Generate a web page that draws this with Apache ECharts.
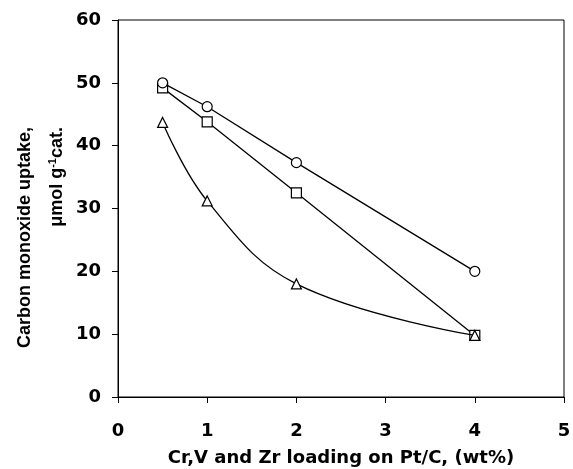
<!DOCTYPE html>
<html><head><meta charset="utf-8">
<script src="https://cdn.jsdelivr.net/npm/echarts@6/dist/echarts.min.js"></script>
<style>html,body{margin:0;padding:0;background:#fff}#c{width:573px;height:469px}</style>
</head><body><div id="c"></div>
<script>
var loading = [0.5, 1, 2, 4];
var seriesCircle = [50.0, 46.2, 37.3, 20.0];
var seriesSquare = [49.2, 43.8, 32.5, 9.8];
var seriesTriangle = [43.7, 31.2, 18.0, 9.8];
var xTicks = [0, 1, 2, 3, 4, 5];
var yTicks = [0, 10, 20, 30, 40, 50, 60];
var xTitle = 'Cr,V and Zr loading on Pt/C, (wt%)';
var yTitle1 = 'Carbon monoxide uptake,';

function pairs(xs, ys){ return xs.map(function(x,i){ return [x, ys[i]]; }); }
var hfont = 'DejaVu Sans, sans-serif';
var vfont = 'Liberation Sans, Arial, sans-serif';
var chart = echarts.init(document.getElementById('c'));
var markerStyle = {color:'#fff', borderColor:'#000', borderWidth:1.2};
chart.setOption({
  animation:false,
  grid:{left:118, top:20, right:9, bottom:72, show:true, borderColor:'#000', borderWidth:1,
    backgroundColor:'transparent', containLabel:false, outerBoundsMode:'none'},
  xAxis:{type:'value', min:0, max:5, interval:1,
    name:xTitle, nameLocation:'middle', nameGap:52,
    nameTextStyle:{fontFamily:hfont, fontWeight:'bold', fontSize:18, color:'#000'},
    axisLine:{lineStyle:{color:'#000', width:1}},
    axisTick:{show:true, inside:false, length:6, lineStyle:{color:'#000'}},
    axisLabel:{fontFamily:hfont, fontWeight:'bold', fontSize:18, color:'#000', margin:25,
      formatter:function(v){ return xTicks.indexOf(v)>=0 ? String(v) : ''; }},
    splitLine:{show:false}},
  yAxis:{type:'value', min:0, max:60, interval:10,
    axisLine:{show:true, lineStyle:{color:'#000', width:1}},
    axisTick:{show:true, inside:false, length:6, lineStyle:{color:'#000'}},
    axisLabel:{fontFamily:hfont, fontWeight:'bold', fontSize:18, color:'#000', margin:17,
      formatter:function(v){ return yTicks.indexOf(v)>=0 ? String(v) : ''; }},
    splitLine:{show:false}},
  graphic:[
    {type:'text', x:25, y:127, rotation:Math.PI/2,
      style:{text:yTitle1, font:'bold 18px '+vfont, fill:'#000', textAlign:'right', textVerticalAlign:'middle'}},
    {type:'text', x:57, y:127, rotation:Math.PI/2,
      style:{text:'{a|μmol g}{s|-1}{a|cat.}', fill:'#000', textAlign:'right', textVerticalAlign:'middle',
        rich:{a:{font:'bold 18px '+vfont, fill:'#000', verticalAlign:'bottom'},
              s:{font:'bold 11px '+vfont, fill:'#000', verticalAlign:'top', padding:[0,0,8,0]}}}}
  ],
  series:[
    {type:'line', data:pairs(loading, seriesTriangle), smooth:0.4, symbol:'triangle', symbolSize:10,
      lineStyle:{color:'#000', width:1.3}, itemStyle:markerStyle, z:2},
    {type:'line', data:pairs(loading, seriesSquare), symbol:'rect', symbolSize:10,
      lineStyle:{color:'#000', width:1.3}, itemStyle:markerStyle, z:1},
    {type:'line', data:pairs(loading, seriesCircle), symbol:'circle', symbolSize:10,
      lineStyle:{color:'#000', width:1.3}, itemStyle:markerStyle, z:3}
  ]
});
</script></body></html>
